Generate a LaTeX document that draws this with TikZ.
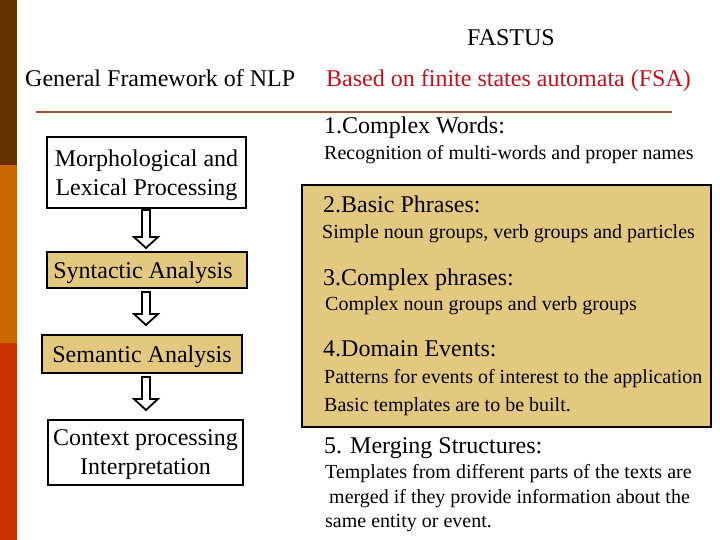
\documentclass[tikz,border=0pt]{standalone}
\usepackage{fontspec}
\setmainfont{Liberation Serif}
\usetikzlibrary{calc}
\definecolor{barbrown}{RGB}{102,51,0}
\definecolor{barorange}{RGB}{204,102,0}
\definecolor{barred}{RGB}{204,51,0}
\definecolor{rulebrown}{RGB}{160,82,45}
\definecolor{tanfill}{RGB}{227,201,128}
\definecolor{fsared}{RGB}{200,16,30}
\newcommand{\bigfs}{\fontsize{24}{29}\selectfont}
\newcommand{\smallfs}{\fontsize{20}{25}\selectfont}
\newcommand{\blkarr}[2]{\draw[blkarrow] ($(#1)+(-4,0)$) -- ($(#1)+(4,0)$) -- ($(#2)+(4,-11)$) -- ($(#2)+(12,-11)$) -- (#2) -- ($(#2)+(-12,-11)$) -- ($(#2)+(-4,-11)$) -- cycle;}
\begin{document}
\begin{tikzpicture}[x=1pt,y=-1pt,
  lbox/.style={draw=black, line width=2.5pt, inner sep=0pt, align=center, font=\bigfs, text depth=0pt},
  whitebox/.style={lbox, fill=white},
  tanbox/.style={lbox, fill=tanfill},
  blkarrow/.style={draw=black, line width=1.8pt, fill=white, line join=miter},
  head/.style={anchor=base west, inner sep=0pt, font=\bigfs},
  sub/.style={anchor=base west, inner sep=0pt, font=\smallfs}]
\useasboundingbox (0,0) rectangle (720,540);
\fill[white] (0,0) rectangle (720,540);
% left bar
\fill[barbrown] (0,0) rectangle (17,165);
\fill[barorange] (0,165) rectangle (17,343);
\fill[barred] (0,343) rectangle (17,540);
% titles
\node[anchor=base, inner sep=0pt, font=\bigfs] (fastus) at (511,46) {FASTUS};
\node[head] (gen) at (25,87) {General Framework of NLP};
\node[head, text=fsared] (fsa) at (326,87) {Based on finite states automata (FSA)};
\coordinate (ruleL) at (36,112);
\coordinate (ruleR) at (672,112);
\draw[rulebrown, line width=2pt] (ruleL) -- (ruleR);
% right tan box
\node[tanbox, minimum width=409, minimum height=242] (stages) at (506.5,306) {};
% left boxes
\node[whitebox, minimum width=199, minimum height=71] (morph) at (146.5,172.5) {Morphological and\\Lexical Processing};
\node[tanbox, minimum width=200, minimum height=36] (syn) at (147,270) {\hspace*{-8pt}Syntactic Analysis};
\node[tanbox, minimum width=200, minimum height=38] (sem) at (142,354) {Semantic Analysis};
\node[whitebox, minimum width=195, minimum height=65] (ctx) at (145.5,452.5) {Context processing\\Interpretation};
% block arrows
\coordinate (a1s) at (146,210); \coordinate (a1e) at (146,248);
\coordinate (a2s) at (146,292); \coordinate (a2e) at (146,325);
\coordinate (a3s) at (146,377); \coordinate (a3e) at (146,410);
\blkarr{a1s}{a1e}
\blkarr{a2s}{a2e}
\blkarr{a3s}{a3e}
% right texts
\node[head] (h1) at (324,134) {1.Complex Words:};
\node[sub] (s1) at (324,160) {Recognition of multi-words and proper names};
\node[head] (h2) at (323,213) {2.Basic Phrases:};
\node[sub] (s2) at (322,238) {Simple noun groups, verb groups and particles};
\node[head] (h3) at (323,285) {3.Complex phrases:};
\node[sub] (s3) at (325,310) {Complex noun groups and verb groups};
\node[head] (h4) at (323,356) {4.Domain Events:};
\node[sub] (s4a) at (324,383) {Patterns for events of interest to the application};
\node[sub] (s4b) at (324,411) {Basic templates are to be built.};
\node[head] (h5) at (324,453) {5. Merging Structures:};
\node[sub] (s5a) at (325,478) {Templates from different parts of the texts are};
\node[sub] (s5b) at (329,503) {merged if they provide information about the};
\node[sub] (s5c) at (325,527) {same entity or event.};
\end{tikzpicture}
\end{document}
